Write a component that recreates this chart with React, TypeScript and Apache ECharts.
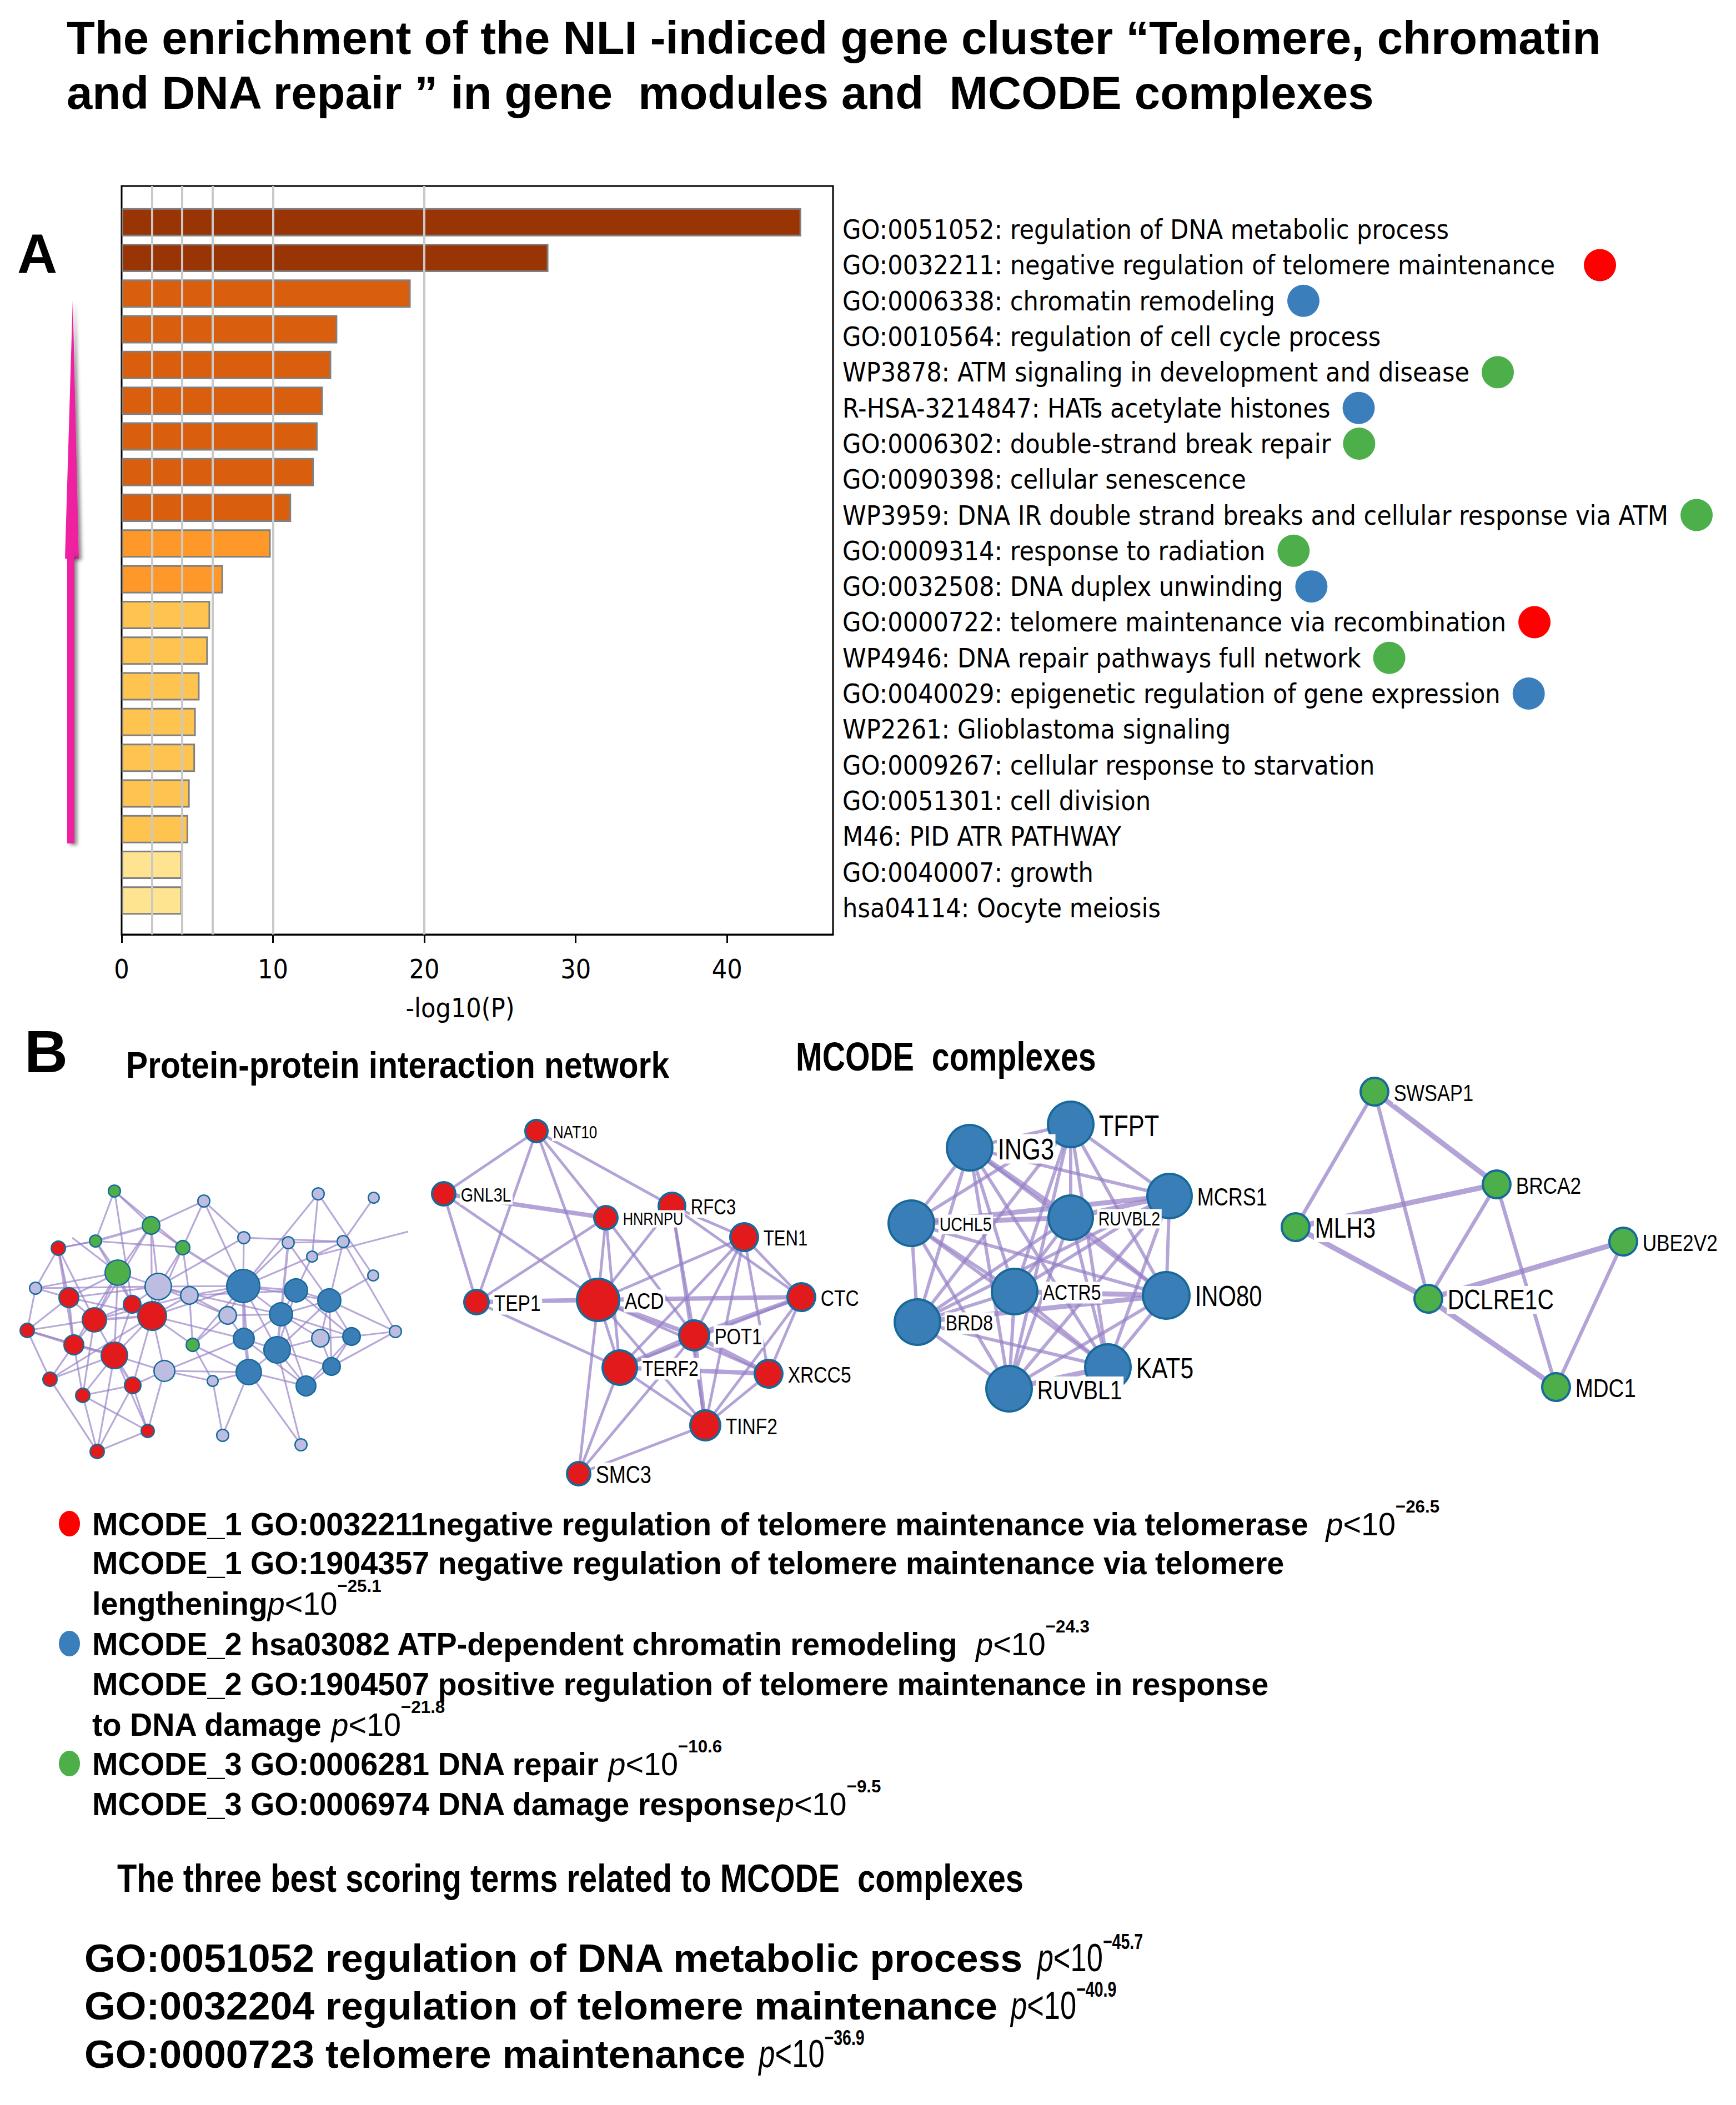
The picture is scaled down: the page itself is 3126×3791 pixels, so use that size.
import React, { useEffect, useRef } from "react";
import * as echarts from "echarts";

const W = 3126;
const H = 3791;

// ---------------- Panel A: enrichment bar chart ----------------
const termLabels = [
  "GO:0051052: regulation of DNA metabolic process",
  "GO:0032211: negative regulation of telomere maintenance",
  "GO:0006338: chromatin remodeling",
  "GO:0010564: regulation of cell cycle process",
  "WP3878: ATM signaling in development and disease",
  "R-HSA-3214847: HATs acetylate histones",
  "GO:0006302: double-strand break repair",
  "GO:0090398: cellular senescence",
  "WP3959: DNA IR double strand breaks and cellular response via ATM",
  "GO:0009314: response to radiation",
  "GO:0032508: DNA duplex unwinding",
  "GO:0000722: telomere maintenance via recombination",
  "WP4946: DNA repair pathways full network",
  "GO:0040029: epigenetic regulation of gene expression",
  "WP2261: Glioblastoma signaling",
  "GO:0009267: cellular response to starvation",
  "GO:0051301: cell division",
  "M46: PID ATR PATHWAY",
  "GO:0040007: growth",
  "hsa04114: Oocyte meiosis",
];
const termLog10P = [44.9, 28.2, 19.1, 14.25, 13.85, 13.3, 12.95, 12.7, 11.2, 9.85, 6.7, 5.85, 5.7, 5.15, 4.9, 4.85, 4.5, 4.4, 4.0, 4.0];
const termColorBin = [0, 0, 1, 1, 1, 1, 1, 1, 1, 2, 2, 3, 3, 3, 3, 3, 3, 3, 4, 4];
const termModule = ["", "M1", "M2", "", "M3", "M2", "M3", "", "M3", "M3", "M2", "M1", "M3", "M2", "", "", "", "", "", ""];
const xTickValues = [0, 10, 20, 30, 40];
const thresholdLines = [2, 4, 6, 10, 20];

// ---------------- Panel B: networks (layout coordinates per panel) ----------------
// [id, x, y, radius, group]
const ppiNodes: [string, number, number, number, string][] = [
  ["G1", 206, 45, 12, "g"], ["G2", 272, 107, 17, "g"], ["G3", 172, 135, 12, "g"], ["G4", 329, 147, 14, "g"],
  ["G5", 212, 192, 24, "g"], ["G6", 347, 322, 13, "g"],
  ["L1", 367, 63, 12, "l"], ["L2", 64, 220, 12, "l"], ["L3", 285, 217, 25, "l"], ["L4", 341, 233, 17, "l"],
  ["L5", 296, 369, 20, "l"], ["L6", 383, 387, 11, "l"], ["L7", 573, 50, 12, "l"], ["L8", 673, 57, 11, "l"],
  ["L9", 439, 129, 12, "l"], ["L10", 519, 138, 12, "l"], ["L11", 618, 136, 12, "l"], ["L12", 562, 163, 11, "l"],
  ["L13", 672, 197, 11, "l"], ["L14", 410, 269, 17, "l"], ["L15", 577, 310, 17, "l"], ["L16", 712, 298, 12, "l"],
  ["L17", 401, 485, 12, "l"], ["L18", 542, 502, 12, "l"],
  ["R1", 105, 148, 14, "r"], ["R2", 124, 237, 19, "r"], ["R3", 170, 277, 23, "r"], ["R4", 238, 249, 17, "r"],
  ["R5", 274, 270, 27, "r"], ["R6", 49, 296, 14, "r"], ["R7", 133, 322, 19, "r"], ["R8", 206, 341, 25, "r"],
  ["R9", 90, 384, 14, "r"], ["R10", 239, 395, 16, "r"], ["R11", 149, 413, 14, "r"], ["R12", 266, 477, 13, "r"],
  ["R13", 175, 514, 14, "r"],
  ["B1", 438, 216, 31, "b"], ["B2", 533, 224, 22, "b"], ["B3", 593, 242, 22, "b"], ["B4", 506, 267, 22, "b"],
  ["B5", 439, 311, 20, "b"], ["B6", 499, 331, 25, "b"], ["B7", 633, 307, 17, "b"], ["B8", 448, 371, 24, "b"],
  ["B9", 597, 361, 17, "b"], ["B10", 551, 396, 19, "b"],
  ["X1", 735, 118, 0, "x"], ["X2", 130, 129, 0, "x"],
];
const ppiEdges =
  "G1-G2 G1-G3 G1-G4 G1-R4 G2-L1 G2-G3* G2-G4 G2-G5 G2-R5 G2-L3 G2-R3 G3-R1 G3-G4 G3-G5 G3-R4 G4-L1 G4-L3 G4-R5 G4-B1* G4-L4 " +
  "G5-R2 G5-R3 G5-R4 G5-L2 G5-L3 G5-R7 G5-R8 R1-L2 R1-R3 R1-R2 R1-R7* R1-G3 L2-R6 L2-L3 L2-R2 R2-R3 R2-R6 R2-R7 R2-R5 R2-L3 " +
  "R3-R4 R3-R5* R3-R8 R3-R7 R3-R6 R3-R11 R3-L4 R4-R5 R4-R8 R4-L3 R5-L3 R5-L4 R5-R8 R5-R10 R5-L5 R5-G6 R5-B1 R5-B5 " +
  "R6-R7* R6-R9 R6-R8 R7-R8* R7-R9 R7-R11 R8-R10* R8-R9 R8-R11 R8-L5 R8-R12 R8-R13 R9-R13 R9-R5 R10-R11 R10-L5 R10-R12 R10-R13 " +
  "R11-R12 R11-R13 R12-R13 R12-L5 L3-L4 L3-B1 L3-B4 L3-L14 L4-B1 L4-B2 L4-L14 L4-G6 L5-L6 L5-B5 L5-B8 G6-B1 G6-L14 G6-L6 G6-B8 " +
  "L6-B8 L6-L17 L1-B1 L1-L9 L9-L11 L9-B1 L9-L3 L10-L11 L10-B4* L10-B3 L10-B1 L7-L12 L7-L13 L7-B1 L8-L11 L11-L16 L11-B3 L11-L12 " +
  "L12-B1 L12-B2 L12-X1 X2-G5 L13-B3 L16-B7 L16-B9 L16-B3 L14-B5 L14-B1 L14-B4 L15-B3 L15-B7 L15-B9 L15-B6 L15-B4 L17-B8 " +
  "L18-B8 L18-B6 B1-B2 B1-B4 B1-B5* B1-B6 B1-B3 B2-B3 B2-B4 B2-B6 B2-B7 B3-B4 B3-B7 B3-B9 B4-B5 B4-B6* B4-B10 B4-B7 B5-B6 " +
  "B5-B8 B6-B8 B6-B10 B6-B9 B7-B9 B7-B10 B8-B10 B9-B10 B5-B10 B3-B6 B1-B8";

const m1Nodes: [string, number, number, number, string][] = [
  ["NAT10", 226, 47, 22, "r"], ["GNL3L", 59, 160, 23, "r"], ["HNRNPU", 351, 203, 23, "r"], ["RFC3", 470, 182, 26, "r"],
  ["TEN1", 600, 238, 27, "r"], ["TEP1", 118, 355, 24, "r"], ["ACD", 337, 351, 40, "r"], ["CTC", 703, 346, 27, "r"],
  ["POT1", 510, 415, 29, "r"], ["TERF2", 376, 473, 33, "r"], ["XRCC5", 644, 484, 27, "r"], ["TINF2", 530, 577, 29, "r"],
  ["SMC3", 302, 664, 23, "r"],
];
const m1Edges =
  "NAT10-GNL3L NAT10-TEP1 NAT10-ACD NAT10-HNRNPU NAT10-RFC3 GNL3L-HNRNPU* GNL3L-TEP1 GNL3L-ACD TEP1-ACD* TEP1-HNRNPU TEP1-TERF2 " +
  "HNRNPU-ACD HNRNPU-POT1 HNRNPU-TERF2 RFC3-TEN1 RFC3-CTC RFC3-POT1 RFC3-TINF2 RFC3-ACD TEN1-CTC TEN1-ACD TEN1-TERF2 TEN1-POT1 " +
  "TEN1-TINF2 TEN1-XRCC5 ACD-CTC* ACD-POT1* ACD-TERF2 ACD-TINF2 ACD-SMC3 ACD-XRCC5 CTC-POT1* CTC-TERF2 CTC-XRCC5 CTC-TINF2 " +
  "POT1-TERF2* POT1-TINF2* POT1-XRCC5* POT1-SMC3 TERF2-XRCC5* TERF2-TINF2 TERF2-SMC3 XRCC5-TINF2 TINF2-SMC3";

const m2Nodes: [string, number, number, number, string][] = [
  ["TFPT", 368, 75, 43, "b"], ["ING3", 186, 117, 43, "b"], ["MCRS1", 546, 204, 42, "b"], ["UCHL5", 81, 253, 43, "b"],
  ["RUVBL2", 368, 243, 42, "b"], ["ACTR5", 267, 376, 43, "b"], ["INO80", 540, 383, 44, "b"], ["BRD8", 92, 431, 43, "b"],
  ["KAT5", 435, 512, 43, "b"], ["RUVBL1", 257, 551, 43, "b"],
];
const m2Edges =
  "TFPT-ING3 TFPT-MCRS1 TFPT-UCHL5 TFPT-RUVBL2 TFPT-ACTR5 TFPT-INO80 TFPT-BRD8 TFPT-KAT5 TFPT-RUVBL1 " +
  "ING3-MCRS1 ING3-UCHL5 ING3-RUVBL2* ING3-ACTR5 ING3-INO80 ING3-BRD8 ING3-KAT5 ING3-RUVBL1 " +
  "MCRS1-UCHL5* MCRS1-RUVBL2* MCRS1-ACTR5 MCRS1-INO80 MCRS1-BRD8 MCRS1-KAT5 MCRS1-RUVBL1 " +
  "UCHL5-RUVBL2* UCHL5-ACTR5 UCHL5-INO80 UCHL5-BRD8 UCHL5-KAT5 UCHL5-RUVBL1 " +
  "RUVBL2-ACTR5 RUVBL2-INO80 RUVBL2-BRD8 RUVBL2-KAT5 RUVBL2-RUVBL1 " +
  "ACTR5-INO80* ACTR5-BRD8 ACTR5-KAT5 ACTR5-RUVBL1 INO80-BRD8* INO80-KAT5 INO80-RUVBL1 BRD8-KAT5 BRD8-RUVBL1 KAT5-RUVBL1*";

const m3Nodes: [string, number, number, number, string][] = [
  ["SWSAP1", 215, 66, 27, "g"], ["BRCA2", 435, 233, 27, "g"], ["MLH3", 73, 310, 27, "g"],
  ["UBE2V2", 663, 336, 27, "g"], ["DCLRE1C", 312, 439, 27, "g"], ["MDC1", 542, 598, 27, "g"],
];
const m3Edges =
  "SWSAP1-MLH3 SWSAP1-DCLRE1C SWSAP1-BRCA2* MLH3-BRCA2* MLH3-DCLRE1C* BRCA2-DCLRE1C BRCA2-MDC1 DCLRE1C-UBE2V2* DCLRE1C-MDC1* UBE2V2-MDC1";

// ---------------- Text blocks ----------------
const titleLines = [
  "The enrichment of the NLI -indiced gene cluster \u201cTelomere, chromatin",
  "and DNA repair \u201d in gene  modules and  MCODE complexes",
];
const legendTerms = [
  "MCODE_1 GO:0032211negative regulation of telomere maintenance via telomerase",
  "MCODE_1 GO:1904357 negative regulation of telomere maintenance via telomere",
  "lengthening",
  "MCODE_2 hsa03082 ATP-dependent chromatin remodeling",
  "MCODE_2 GO:1904507 positive regulation of telomere maintenance in response",
  "to DNA damage",
  "MCODE_3 GO:0006281 DNA repair",
  "MCODE_3 GO:0006974 DNA damage response",
];
const legendExponents = ["\u221226.5", "", "\u221225.1", "\u221224.3", "", "\u221221.8", "\u221210.6", "\u22129.5"];
const legendDotModule = ["M1", "", "", "M2", "", "", "M3", ""];
const bestTerms = [
  "GO:0051052 regulation of DNA metabolic process",
  "GO:0032204 regulation of telomere maintenance",
  "GO:0000723 telomere maintenance",
];
const bestExponents = ["\u221245.7", "\u221240.9", "\u221236.9"];

// ---------------- styles ----------------
const BAR_COLORS = ["#993404", "#d95f0e", "#fe9929", "#fec44f", "#fee391"];
const MODULE_COLORS: Record<string, string> = { M1: "#ff0000", M2: "#3a7ebb", M3: "#4caf4a" };
const NODE_COLORS: Record<string, string> = { r: "#e31a1c", g: "#4daf4a", b: "#3a7eb8", l: "#bcbde0", x: "rgba(0,0,0,0)" };
const NODE_BORDER = "#17699a";
const EDGE = "#9680c6";
const LIB = "Liberation Sans";

const labelSize: Record<string, number> = {
  NAT10: 32, GNL3L: 35, HNRNPU: 31, RFC3: 38, TEN1: 38, TEP1: 41, ACD: 41, CTC: 41, POT1: 40, TERF2: 39,
  XRCC5: 41, TINF2: 41, SMC3: 44,
  TFPT: 53, ING3: 53, MCRS1: 44, UCHL5: 35, RUVBL2: 35, ACTR5: 39, INO80: 51, BRD8: 39, KAT5: 52, RUVBL1: 48,
  SWSAP1: 42, BRCA2: 43, MLH3: 50, UBE2V2: 43, DCLRE1C: 50, MDC1: 47,
};

function fontAvailable(name: string): boolean {
  const c = document.createElement("canvas").getContext("2d");
  if (!c) return false;
  const s = "abcdefghijklmnopqrstuvwxyzABCDEFGHIJKLMNOPQRSTUVWXYZ0123456789";
  const r = ["monospace", "serif"].map((fb) => {
    c.font = `72px ${fb}`;
    const a = c.measureText(s).width;
    c.font = `72px "${name}", ${fb}`;
    const b = c.measureText(s).width;
    return Math.abs(a - b) > 0.5;
  });
  return r[0] && r[1];
}

const mctx = document.createElement("canvas").getContext("2d") as CanvasRenderingContext2D;
function textW(t: string, font: string) {
  mctx.font = font;
  return mctx.measureText(t).width;
}
function fit(texts: string[], font: string, targets: number[]) {
  const m = texts.reduce((s, t) => s + textW(t, font), 0);
  const t = targets.reduce((a, b) => a + b, 0);
  return t / m;
}

function txt(x: number, y: number, text: string, fs: number, o: any = {}) {
  const align = o.align || "left";
  return {
    type: "text",
    x,
    y,
    scaleX: o.scaleX || 1,
    z: 100,
    style: {
      text,
      fontFamily: o.family || LIB,
      fontWeight: o.weight || "bold",
      fontStyle: o.style || "normal",
      fontSize: fs,
      fill: "#000",
      align,
      textAlign: align,
      verticalAlign: "middle",
      textVerticalAlign: "middle",
    },
  };
}

function parseEdges(s: string) {
  return s
    .split(/\s+/)
    .filter(Boolean)
    .map((e) => {
      const thick = e.endsWith("*");
      const [a, b] = e.replace("*", "").split("-");
      return { a, b, thick };
    });
}

const PANELS = [
  { left: 0, top: 2100, width: 760, height: 540 },
  { left: 740, top: 1990, width: 800, height: 700 },
  { left: 1560, top: 1950, width: 600, height: 600 },
  { left: 2260, top: 1900, width: 720, height: 650 },
];
const LABELED: [number, [string, number, number, number, string][]][] = [
  [3, m1Nodes],
  [4, m2Nodes],
  [5, m3Nodes],
];

function buildOption() {
  const hasCond = fontAvailable("DejaVu Sans Condensed");
  const hasNarrow = fontAvailable("Liberation Sans Narrow");
  const barFont = hasCond ? "DejaVu Sans Condensed" : hasNarrow ? "Liberation Sans Narrow" : "DejaVu Sans";
  const barFs = hasCond ? 48 : hasNarrow ? 52 : 43;

  const FRAME = { left: 219, top: 335, width: 1281, height: 1348 };
  const BARS = { left: 219, top: 368, width: 1281, height: 1286 };

  const grid: any[] = [
    { ...FRAME, show: true, borderColor: "#000", borderWidth: 3, backgroundColor: "transparent", containLabel: false },
    { ...BARS, containLabel: false },
    ...PANELS.map((p) => ({ ...p, containLabel: false })),
  ];

  const xAxis: any[] = [
    {
      gridIndex: 0,
      type: "value",
      min: 0,
      max: 47,
      splitLine: { show: false },
      axisLine: { show: true, onZero: false, lineStyle: { color: "#000", width: 3 } },
      axisTick: { show: true, length: 15, customValues: xTickValues, lineStyle: { color: "#000", width: 3 } },
      axisLabel: { customValues: xTickValues, fontFamily: barFont, fontSize: barFs, color: "#000", margin: 38 },
      name: "-log10(P)",
      nameLocation: "middle",
      nameGap: 108,
      nameTextStyle: { fontFamily: barFont, fontSize: barFs, color: "#000", padding: [0, 62, 0, 0] },
    },
    { gridIndex: 1, type: "value", min: 0, max: 47, show: false },
    ...PANELS.map((p, i) => ({ gridIndex: i + 2, type: "value", min: 0, max: p.width, show: false })),
  ];

  const richDots: any = {
    gS: { width: 22 },
    gL: { width: 52 },
  };
  Object.keys(MODULE_COLORS).forEach((k) => {
    richDots["d" + k] = { width: 58, height: 58, borderRadius: 29, backgroundColor: MODULE_COLORS[k] };
  });

  const yAxis: any[] = [
    { gridIndex: 0, type: "value", min: 0, max: 1, show: false },
    {
      gridIndex: 1,
      type: "category",
      data: termLabels,
      inverse: true,
      position: "right",
      axisLine: { show: false },
      axisTick: { show: false },
      splitLine: { show: false },
      axisLabel: {
        interval: 0,
        margin: 17,
        fontFamily: barFont,
        fontSize: barFs,
        color: "#000",
        padding: [26, 0, 0, 0],
        rich: richDots,
        formatter: (v: string, i: number) => {
          const m = termModule[i];
          if (!m) return v;
          return `${v}{${i === 1 ? "gL" : "gS"}| }{d${m}| }`;
        },
      },
    },
    ...PANELS.map((p, i) => ({ gridIndex: i + 2, type: "value", min: 0, max: p.height, inverse: true, show: false })),
  ];

  const graphSeries = (
    idx: number,
    nodes: [string, number, number, number, string][],
    edges: string,
    border: number,
    w1: number,
    w2: number,
    opacity: number
  ) => ({
    type: "graph",
    coordinateSystem: "cartesian2d",
    xAxisIndex: idx,
    yAxisIndex: idx,
    silent: true,
    symbol: "circle",
    edgeSymbol: ["none", "none"],
    z: 5,
    emphasis: { disabled: true },
    lineStyle: { color: EDGE, opacity, width: w1, curveness: 0 },
    label: { show: false },
    data: nodes.map(([name, x, y, r, g]) => ({
      name,
      value: [x, y],
      symbolSize: g === "x" ? 0 : Math.max(2 * r - border, 1),
      itemStyle: {
        color: NODE_COLORS[g],
        borderColor: g === "x" ? "rgba(0,0,0,0)" : NODE_BORDER,
        borderWidth: g === "x" ? 0 : border,
      },
    })),
    links: parseEdges(edges).map((e) => ({
      source: e.a,
      target: e.b,
      lineStyle: { width: e.thick ? w2 : w1 },
    })),
  });

  const series: any[] = [
    {
      type: "line",
      xAxisIndex: 0,
      yAxisIndex: 0,
      data: [],
      z: 1,
      silent: true,
      markLine: {
        silent: true,
        symbol: ["none", "none"],
        label: { show: false },
        lineStyle: { color: "#c9c9c9", width: 4, type: "solid" },
        data: thresholdLines.map((v) => ({ xAxis: v })),
      },
    },
    {
      type: "bar",
      xAxisIndex: 1,
      yAxisIndex: 1,
      barWidth: 51,
      z: 3,
      silent: true,
      itemStyle: { borderColor: "#808080", borderWidth: 3 },
      data: termLog10P.map((v, i) => ({ value: v, itemStyle: { color: BAR_COLORS[termColorBin[i]] } })),
    },
    graphSeries(2, ppiNodes, ppiEdges, 2.5, 3.2, 4.5, 0.68),
    graphSeries(3, m1Nodes, m1Edges, 4, 5, 8, 0.72),
    graphSeries(4, m2Nodes, m2Edges, 4, 6, 9, 0.7),
    graphSeries(5, m3Nodes, m3Edges, 4, 6.5, 9.5, 0.72),
  ];

  // ---------- graphic texts ----------
  const g: any[] = [];

  const tFs = 83;
  const tFont = `bold ${tFs}px "${LIB}"`;
  const tSc = fit(titleLines, tFont, [2767, 2352]);
  g.push(txt(120, 94 - 0.31 * tFs, titleLines[0], tFs, { scaleX: tSc }));
  g.push(txt(120, 193 - 0.31 * tFs, titleLines[1], tFs, { scaleX: tSc }));

  g.push(txt(67, 457, "A", 100, { align: "center" }));
  g.push(txt(83, 1893, "B", 108, { align: "center" }));

  g.push({
    type: "group",
    z: 50,
    children: [
      {
        type: "polygon",
        shape: { points: [[131, 540], [142, 1006], [117, 1006]] },
        style: { fill: "#ee22a0", shadowBlur: 6, shadowOffsetX: 5, shadowOffsetY: 3, shadowColor: "rgba(0,0,0,0.45)" },
      },
      {
        type: "rect",
        shape: { x: 121, y: 1000, width: 13, height: 519 },
        style: { fill: "#ee22a0", shadowBlur: 6, shadowOffsetX: 5, shadowOffsetY: 3, shadowColor: "rgba(0,0,0,0.45)" },
      },
    ],
  });

  const pFs = 67;
  const pSc = fit(["Protein-protein interaction network"], `bold ${pFs}px "${LIB}"`, [978]);
  g.push(txt(227, 1938 - 0.31 * pFs, "Protein-protein interaction network", pFs, { scaleX: pSc }));
  const mFs = 72;
  const mSc = fit(["MCODE  complexes"], `bold ${mFs}px "${LIB}"`, [541]);
  g.push(txt(1433, 1925 - 0.31 * mFs, "MCODE  complexes", mFs, { scaleX: mSc }));

  const lFs = 57;
  const lFont = `bold ${lFs}px "${LIB}"`;
  const lSc = fit([legendTerms[0], legendTerms[1], legendTerms[3], legendTerms[4]], lFont, [2191, 2152, 1552, 2125]);
  const legendCapCenters = [2741, 2811, 2884, 2957, 3029, 3102, 3173, 3245];
  const legendGaps = ["  ", "", "", "  ", "", " ", " ", ""];
  const legendRich = {
    b: { fontFamily: LIB, fontWeight: "bold", fontSize: lFs, lineHeight: 60, verticalAlign: "bottom", fill: "#000" },
    p: { fontFamily: LIB, fontStyle: "italic", fontWeight: "normal", fontSize: lFs, lineHeight: 60, verticalAlign: "bottom", fill: "#000" },
    n: { fontFamily: LIB, fontWeight: "normal", fontSize: lFs, lineHeight: 60, verticalAlign: "bottom", fill: "#000" },
    s: { fontFamily: LIB, fontWeight: "bold", fontSize: 32, lineHeight: 36, padding: [0, 0, 45, 0], verticalAlign: "bottom", fill: "#000" },
  };
  legendTerms.forEach((t, i) => {
    const e = legendExponents[i];
    const text = `{b|${t}${e ? legendGaps[i] : ""}}` + (e ? `{p|p}{n|<10}{s|${e}}` : "");
    g.push({
      type: "text",
      x: 166,
      y: legendCapCenters[i] + 33,
      scaleX: lSc,
      z: 100,
      style: { text, rich: legendRich, fill: "#000", align: "left", textAlign: "left", verticalAlign: "bottom", textVerticalAlign: "bottom" },
    });
    const m = legendDotModule[i];
    if (m) {
      g.push({
        type: "ellipse",
        z: 100,
        shape: { cx: 125, cy: legendCapCenters[i] + 3, rx: 19, ry: 23 },
        style: { fill: MODULE_COLORS[m] },
      });
    }
  });

  const bhFs = 70;
  const bhText = "The three best scoring terms related to MCODE  complexes";
  const bhSc = fit([bhText], `bold ${bhFs}px "${LIB}"`, [1632]);
  g.push(txt(211, 3405 - 0.31 * bhFs, bhText, bhFs, { scaleX: bhSc }));

  const bFs = 71;
  const bFont = `bold ${bFs}px "${LIB}"`;
  const bSc = fit(bestTerms, bFont, [1687, 1652, 1187]);
  const bestBaselines = [3548, 3634, 3721];
  const bestRich = {
    p: { fontFamily: LIB, fontStyle: "italic", fontWeight: "normal", fontSize: 70, lineHeight: 70, verticalAlign: "bottom", fill: "#000" },
    n: { fontFamily: LIB, fontWeight: "normal", fontSize: 70, lineHeight: 70, verticalAlign: "bottom", fill: "#000" },
    s: { fontFamily: LIB, fontWeight: "bold", fontSize: 38, lineHeight: 40, padding: [0, 0, 45, 0], verticalAlign: "bottom", fill: "#000" },
  };
  bestTerms.forEach((t, i) => {
    const yMid = bestBaselines[i] - 0.31 * bFs;
    g.push(txt(152, yMid, t, bFs, { scaleX: bSc }));
    const endX = 152 + textW(t, bFont) * bSc + 24;
    g.push({
      type: "text",
      x: endX,
      y: yMid + 35,
      scaleX: 0.75,
      z: 100,
      style: {
        text: `{p|p}{n|<10}{s|${bestExponents[i]}}`,
        rich: bestRich,
        fill: "#000",
        align: "left",
        textAlign: "left",
        verticalAlign: "bottom",
        textVerticalAlign: "bottom",
      },
    });
  });

  return {
    animation: false,
    backgroundColor: "#ffffff",
    grid,
    xAxis,
    yAxis,
    series,
    graphic: { elements: g },
  };
}

// Node labels: condensed text placed next to each node via the chart's own coordinate conversion
function nodeLabels(chart: any) {
  const out: any[] = [];
  LABELED.forEach(([gi, nodes]) => {
    nodes.forEach(([name, x, y, r]) => {
      const p = chart.convertToPixel({ gridIndex: gi }, [x, y]);
      if (!p) return;
      const fs = labelSize[name] || 40;
      out.push({
        type: "text",
        x: p[0] + r + 6,
        y: p[1] + 2,
        scaleX: 0.82,
        z: 90,
        style: {
          text: name,
          fontFamily: LIB,
          fontWeight: "normal",
          fontSize: fs,
          fill: "#000",
          align: "left",
          textAlign: "left",
          verticalAlign: "middle",
          textVerticalAlign: "middle",
          backgroundColor: "#ffffff",
          padding: [0, 3, 0, 2],
        },
      });
    });
  });
  return out;
}

export default function App() {
  const ref = useRef<HTMLDivElement>(null);
  useEffect(() => {
    document.body.style.margin = "0";
    const el = ref.current as HTMLDivElement;
    const chart = echarts.init(el, null, { renderer: "svg", width: W, height: H });
    const opt: any = buildOption();
    chart.setOption(opt);
    const labels = nodeLabels(chart);
    opt.graphic = { elements: [...opt.graphic.elements, ...labels] };
    chart.setOption(opt, true);
    return () => {
      chart.dispose();
    };
  }, []);
  return <div ref={ref} style={{ width: W, height: H, background: "#fff" }} />;
}
